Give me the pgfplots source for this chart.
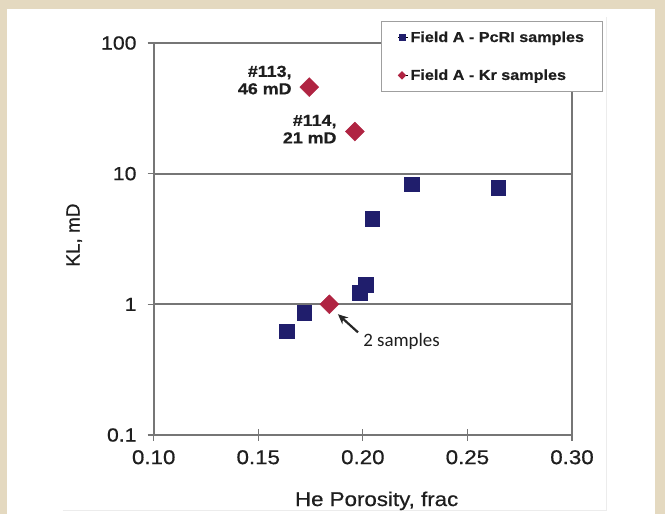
\documentclass[border=0pt]{standalone}
\usepackage{fontspec}
\setmainfont{Liberation Sans}[FakeStretch=1.12, FakeBold=0.6]
\newfontfamily\ylabfont{Liberation Sans}[FakeBold=0.6]
\newfontfamily\calfont{Carlito}
\usepackage{pgfplots}
\pgfplotsset{compat=1.18}
\usetikzlibrary{arrows.meta}
\definecolor{beige}{RGB}{228,217,192}
\definecolor{navyb}{RGB}{32,30,108}
\definecolor{crim}{RGB}{176,36,66}
\definecolor{axgray}{RGB}{118,118,118}
\definecolor{txt}{RGB}{30,30,30}
\begin{document}
\begin{tikzpicture}
\useasboundingbox (-153.7bp,-79bp) rectangle (511.3bp,435bp);
\fill[beige] (-153.7bp,-79bp) rectangle (511.3bp,435bp);
\fill[white] (-146.7bp,-79bp) rectangle (501.3bp,426bp);
\draw[gray!15, line width=0.8bp] (-90.7bp,-75bp) -- (452.3bp,-75bp) -- (452.3bp,418bp);
\begin{axis}[
  scale only axis, width=418.3bp, height=392bp,
  at={(0,0)}, anchor=south west,
  xmin=0.1, xmax=0.3, ymode=log, ymin=0.1, ymax=100,
  xtick={0.1,0.15,0.2,0.25,0.3}, xticklabels={0.10,0.15,0.20,0.25,0.30},
  ytick={0.1,1,10,100}, yticklabels={0.1,1,10,100},
  yminorticks=false,
  /pgf/number format/assume math mode=true,
  tick pos=left, tick align=center, major tick length=12bp,
  ymajorgrids, grid style={axgray, line width=1.9bp},
  axis line style={axgray, line width=1.9bp},
  tick style={axgray, line width=1.3bp},
  xticklabel style={font=\fontsize{20}{22}\selectfont, text=txt, inner sep=0pt, anchor=north, yshift=-9bp},
  yticklabel style={font=\fontsize{19}{21}\selectfont, text=txt, inner sep=0pt, anchor=east, xshift=-11bp},
  xlabel={He Porosity, frac},
  xlabel style={font=\fontsize{20}{22}\selectfont, text=txt, at={(axis description cs:0.533,-0.168)}, anchor=center},
  ylabel={KL, mD},
  ylabel style={font=\ylabfont\fontsize{19}{21}\selectfont, text=txt, at={(axis description cs:-0.19,0.51)}, anchor=center},
  legend style={at={(axis description cs:0.5434,1.056)}, anchor=north west,
    draw=axgray!70, line width=1bp, fill=white,
    font=\bfseries\fontsize{14.5}{16}\selectfont, text=txt,
    inner xsep=16bp, inner ysep=8bp, row sep=22bp},
  legend cell align=left,
  legend image code/.code={\path (-4bp,0bp) -- (6bp,0bp); \draw[#1] plot coordinates {(0bp,0bp)};},
]
\addplot[only marks, mark=square*, mark size=7.3bp, mark options={draw=navyb, fill=navyb}, legend image post style={mark size=3bp}]
  coordinates {(0.1636,0.625) (0.172,0.865) (0.1986,1.23) (0.2015,1.42) (0.2045,4.5) (0.2234,8.3) (0.2648,7.8)};
\addlegendentry{Field A - PcRI samples}
\addplot[only marks, mark=square*, mark size=6.7bp, mark options={draw=crim, fill=crim, rotate=45}, legend image post style={mark size=2.5bp}]
  coordinates {(0.1744,46) (0.1962,21) (0.184,1.0)};
\addlegendentry{Field A - Kr samples}
\node[anchor=east, align=right, font=\bfseries\fontsize{16}{17.5}\selectfont, text=txt, inner sep=0pt] at (axis cs:0.166,52) {\#113,\\46 mD};
\node[anchor=east, align=right, font=\bfseries\fontsize{16}{17.5}\selectfont, text=txt, inner sep=0pt] at (axis cs:0.1875,21.9) {\#114,\\21 mD};
\node[anchor=west, font=\calfont\fontsize{19}{21}\selectfont, text=txt, inner sep=0pt] at (axis cs:0.2001,0.522) {2 samples};
\draw[-{Stealth[length=10bp,width=9bp]}, line width=2.2bp, black!85] (axis cs:0.1977,0.61) -- (axis cs:0.1881,0.84);
\end{axis}
\end{tikzpicture}
\end{document}
